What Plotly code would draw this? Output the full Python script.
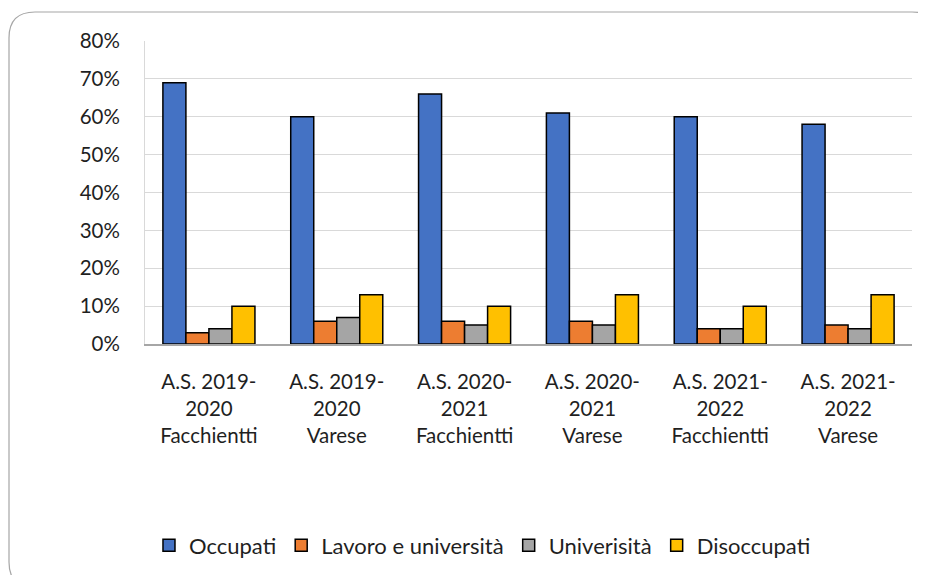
import plotly.graph_objects as go

# categorie (anno scolastico + sede)
categorie = [
    "A.S. 2019-<br>2020<br>Facchientti",
    "A.S. 2019-<br>2020<br>Varese",
    "A.S. 2020-<br>2021<br>Facchientti",
    "A.S. 2020-<br>2021<br>Varese",
    "A.S. 2021-<br>2022<br>Facchientti",
    "A.S. 2021-<br>2022<br>Varese",
]

# valori (frazioni)
occupati = [0.69, 0.60, 0.66, 0.61, 0.60, 0.58]
lavoro_universita = [0.03, 0.06, 0.06, 0.06, 0.04, 0.05]
universita = [0.04, 0.07, 0.05, 0.05, 0.04, 0.04]
disoccupati = [0.10, 0.13, 0.10, 0.13, 0.10, 0.13]

serie = [
    ("Occupati", occupati, "#4472c4"),
    ("Lavoro e università", lavoro_universita, "#ed7d31"),
    ("Univerisità", universita, "#a5a5a5"),
    ("Disoccupati", disoccupati, "#ffc000"),
]

# la pagina ha un margine di 8px: la figura parte da (8, 8)
W, H = 918, 567
L, R, T, B = 137, 14, 33, 231
font = "Lato, 'Noto Sans', sans-serif"

fig = go.Figure()
for nome, valori, colore in serie:
    fig.add_trace(go.Bar(
        x=categorie, y=valori, name=nome,
        marker=dict(color=colore, line=dict(color="black", width=1.5)),
    ))

# cornice arrotondata intorno al grafico (pixel -> coordinate paper)
pw, ph = W - L - R, H - T - B
def px(x):
    return (x - L) / pw
def py(y):
    return 1 - (y - T) / ph

x0, y0, x1, y1, rr = 1, 4, 930, 580, 26
path = (
    f"M {px(x0 + rr)} {py(y0)} L {px(x1 - rr)} {py(y0)} "
    f"Q {px(x1)} {py(y0)} {px(x1)} {py(y0 + rr)} "
    f"L {px(x1)} {py(y1 - rr)} Q {px(x1)} {py(y1)} {px(x1 - rr)} {py(y1)} "
    f"L {px(x0 + rr)} {py(y1)} Q {px(x0)} {py(y1)} {px(x0)} {py(y1 - rr)} "
    f"L {px(x0)} {py(y0 + rr)} Q {px(x0)} {py(y0)} {px(x0 + rr)} {py(y0)} Z"
)
fig.add_shape(type="path", path=path, xref="paper", yref="paper",
              line=dict(color="#a6a6a6", width=1.2), layer="below")

fig.update_layout(
    width=W, height=H,
    margin=dict(l=L, r=R, t=T, b=B, autoexpand=False),
    paper_bgcolor="white", plot_bgcolor="white",
    barmode="group", bargap=0.28, bargroupgap=0,
    font=dict(family=font, size=20.5, color="#1f1f1f"),
    showlegend=True,
    legend=dict(
        orientation="h", x=0.44, xanchor="center", y=-0.665, yanchor="middle",
        font=dict(size=22, color="#1f1f1f"), itemwidth=30,
    ),
    xaxis=dict(
        showgrid=False, showline=True, linecolor="#a6a6a6", linewidth=1.5,
        tickfont=dict(size=20.5), ticks="", ticklabelstandoff=19,
        automargin=False,
    ),
    yaxis=dict(
        range=[0, 0.8], dtick=0.1, tickformat=".0%",
        showgrid=True, gridcolor="#d9d9d9", gridwidth=1,
        showline=True, linecolor="#d9d9d9", zeroline=False,
        tickfont=dict(size=20.5), ticks="", ticklabelstandoff=20,
        automargin=False,
    ),
)

fig.write_html("out.html")
